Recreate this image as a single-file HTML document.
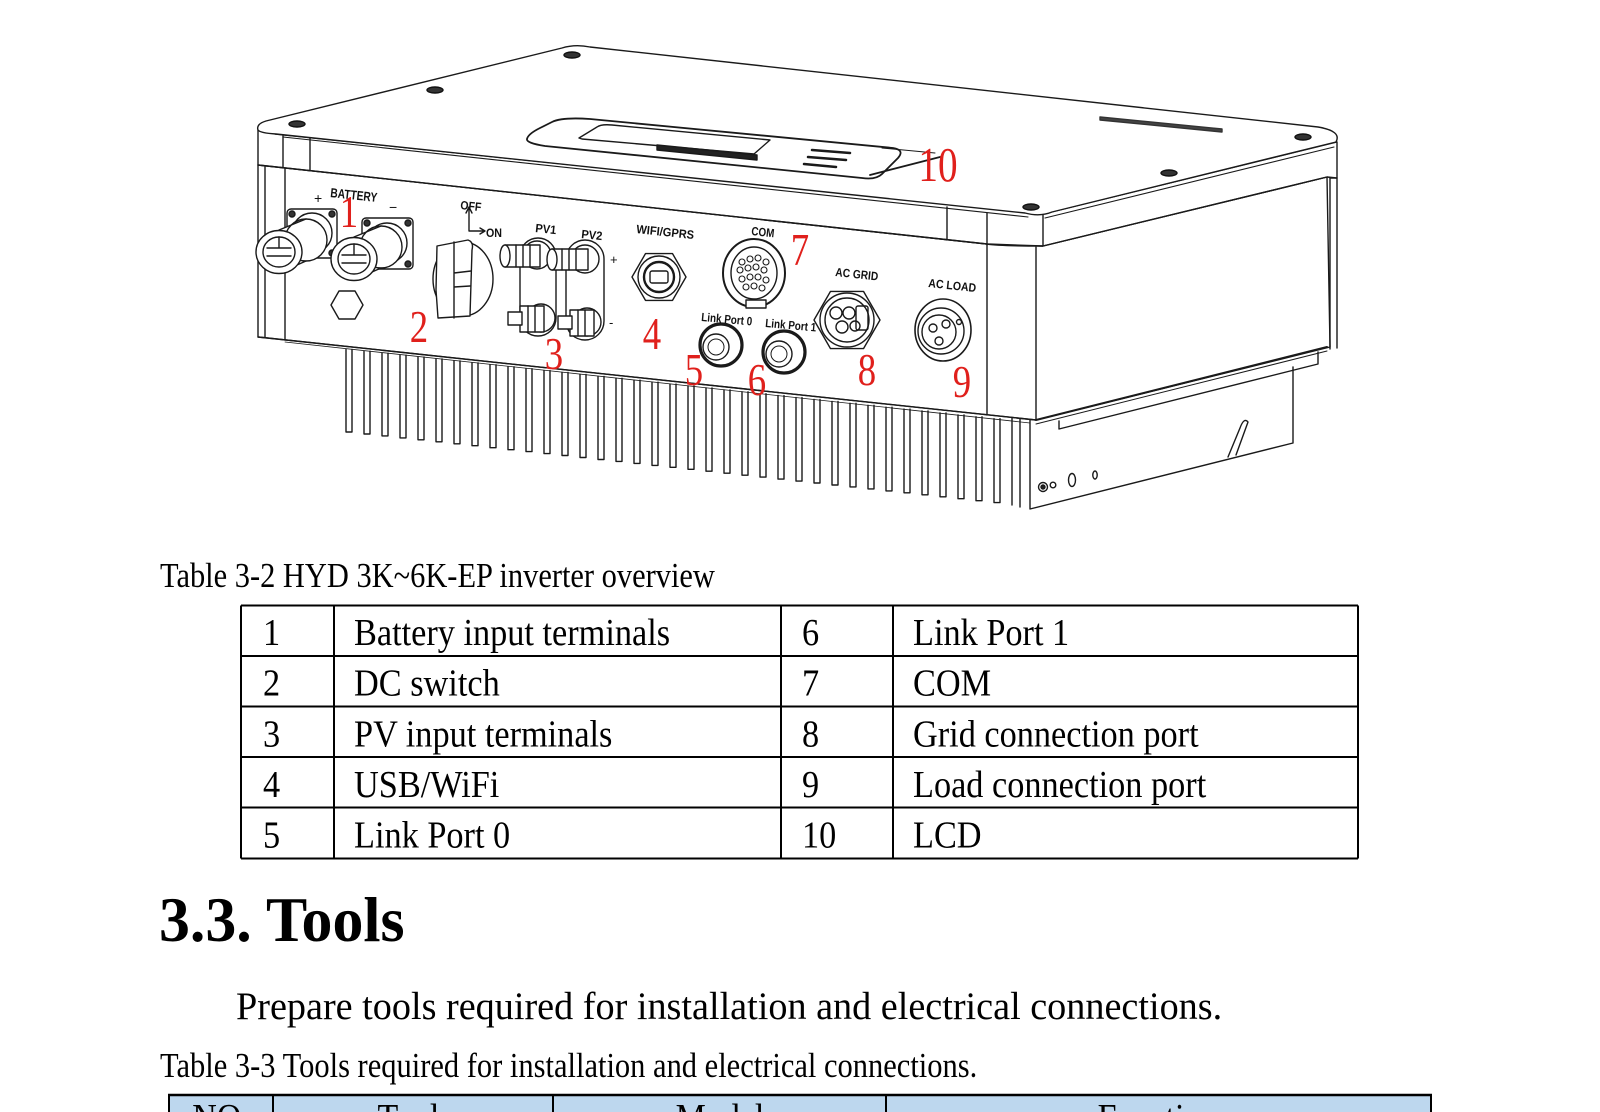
<!DOCTYPE html>
<html><head><meta charset="utf-8"><style>
html,body{margin:0;padding:0;background:#fff;}
body{width:1600px;height:1112px;overflow:hidden;}
svg{display:block;}
.serif{font-family:"Liberation Serif","Times New Roman",serif;fill:#000;}
.lbl{font-family:"Liberation Sans",Arial,sans-serif;font-weight:bold;fill:#111;stroke:none;}
.red{font-family:"Liberation Serif","Times New Roman",serif;fill:#e0201c;stroke:none;}
</style></head><body>
<svg width="1600" height="1112" viewBox="0 0 1600 1112" xmlns="http://www.w3.org/2000/svg">
<rect width="1600" height="1112" fill="#fff"/>

<g fill="none" stroke="#1a1a1a" stroke-width="1.4" stroke-linejoin="round" stroke-linecap="round">
<!-- heat sink fins -->
<path fill="#fff" d="
M346,349.4V432h6V349.4 M364,351.3V434h6V351.3 M382,353.3V435.9h6V353.3 M400,355.2V437.9h6V355.2
M418,357.1V439.8h6V357.1 M436,359V441.8h6V359 M454,361V443.8h6V361 M472,362.9V445.7h6V362.9
M490,364.8V447.7h6V364.8 M508,366.8V449.7h6V366.8 M526,368.7V451.6h6V368.7 M544,370.6V453.6h6V370.6
M562,372.5V455.5h6V372.5 M580,374.5V457.5h6V374.5 M598,376.4V459.5h6V376.4 M616,378.3V461.4h6V378.3
M634,380.2V463.4h6V380.2 M652,382.2V465.4h6V382.2 M670,384.1V467.3h6V384.1 M688,386V469.3h6V386
M706,387.9V471.2h6V387.9 M724,389.9V473.2h6V389.9 M742,391.8V475.2h6V391.8 M760,393.7V477.1h6V393.7
M778,395.6V479.1h6V395.6 M796,397.6V481.1h6V397.6 M814,399.5V483h6V399.5 M832,401.4V485h6V401.4
M850,403.3V486.9h6V403.3 M868,405.3V488.9h6V405.3 M886,407.2V490.9h6V407.2 M904,409.1V492.8h6V409.1
M922,411V494.8h6V411 M940,413V496.8h6V413 M958,414.9V498.7h6V414.9 M976,416.8V500.7h6V416.8
M994,418.7V502.6h6V418.7"/>
<path d="M1012,418 V505 M1020,418 V507"/>

<!-- base bracket right -->
<path fill="#fff" d="M1030,420 L1030,509 L1293,443 L1293,367"/>
<path d="M1059,421 L1059,429 L1318,364 L1318,352"/>
<path d="M1228,457 L1240,428 Q1244,417 1248,422 L1236,455"/>
<circle cx="1043" cy="487" r="4.5"/><circle cx="1043" cy="487" r="2" fill="#222"/>
<circle cx="1053" cy="485" r="2.8"/>
<ellipse cx="1072" cy="480" rx="3.5" ry="6.5"/>
<ellipse cx="1095" cy="475" rx="2.2" ry="4"/>

<!-- body faces -->
<path fill="#fff" d="M258,165 L987,244 L1043,246 L1327,177 L1330,347 L1036,420 L258,337 Z"/>
<path d="M265,166 V337 M285,168 V340 M987,244 V415 M1036,247 V420"/>
<path d="M258,337 L1036,420"/>
<path d="M285,342 L1030,423" stroke-width="0.8"/>
<path d="M1036,420 L1327,347" stroke-width="2"/>
<path d="M1036,424 L1327,351" stroke-width="1"/>
<path d="M1330,176 V349 M1322,171 L1330,178 L1337,178 V348"/>

<!-- lid -->
<path fill="#fff" d="M258,130 L258,165 L987,244 L1043,246 L1327,177 L1337,178 L1337,142 L1043,214 L275,134 Z"/>
<path fill="#fff" d="M258,130 Q256,124 266,121 L562,48 Q575,44 590,47 L1318,127 Q1342,131 1336,142 L1052,212 Q1040,217 1025,213 L276,134 Q260,133 258,130 Z"/>
<path d="M283,137 L1028,217 M1045,218 L1334,147" stroke-width="1.1"/>
<path d="M258,165 L987,244 Q1000,246 1043,246 L1327,177"/>
<path d="M283,135 V168 M310,138 V170 M947,207 V240 M987,213 V245 M1043,215 V246"/>

<!-- top bolts -->
<g fill="#333" stroke="#111">
<ellipse cx="572" cy="55" rx="8" ry="3"/>
<ellipse cx="435" cy="90" rx="8" ry="3"/>
<ellipse cx="297" cy="124" rx="8" ry="3"/>
<ellipse cx="1303" cy="137" rx="8" ry="3"/>
<ellipse cx="1169" cy="173" rx="8" ry="3"/>
<ellipse cx="1031" cy="207" rx="8" ry="3"/>
</g>
<!-- brand -->
<path d="M1100,117 L1222,129 L1222,132 L1100,120 Z" fill="#444" stroke="#333"/>

<!-- LCD panel -->
<path fill="#fff" stroke-width="1.8" d="M527,139 Q528,134 540,128 L552,122 Q562,117 590,119 L893,148 Q905,150 898,158 L882,174 Q876,180 862,178 L545,146 Q526,143 527,139 Z"/>
<path d="M579,138 L597,127 Q601,124 612,125 L770,140 L754,154 L582,139 Z"/>
<path d="M657,145 L757,155 L757,160 L657,150 Z" fill="#222"/>
<path d="M812,150 L850,153 M808,157 L846,160 M804,164 L836,167" stroke-width="2.5"/>
<path d="M870,175 L940,157" stroke-width="1.8"/>
<path d="M882,148 L935,153" stroke-width="1"/>

<!-- battery connectors -->
<rect x="287" y="209" width="50" height="49" rx="4" fill="#fff"/>
<circle cx="312" cy="233" r="20"/>
<g fill="#333"><circle cx="292" cy="214" r="3"/><circle cx="332" cy="214" r="3"/><circle cx="292" cy="253" r="3"/><circle cx="332" cy="253" r="3"/></g>
<path fill="#fff" d="M279,230 L306,219 L306,261 L279,273 Z" stroke="none"/>
<ellipse cx="306" cy="240" rx="21" ry="21" fill="#fff"/>
<path d="M279,230 L306,219 M279,273 L306,261"/>
<ellipse cx="279" cy="252" rx="23" ry="21.5" fill="#fff"/>
<ellipse cx="279" cy="252" rx="16" ry="15"/>
<path d="M267,248 H291 M267,256 H291 M279,237 V248"/>

<rect x="362" y="218" width="51" height="51" rx="4" fill="#fff"/>
<circle cx="387" cy="243" r="20"/>
<g fill="#333"><circle cx="367" cy="223" r="3"/><circle cx="408" cy="223" r="3"/><circle cx="367" cy="264" r="3"/><circle cx="408" cy="264" r="3"/></g>
<path fill="#fff" d="M354,237 L381,226 L381,268 L354,280 Z" stroke="none"/>
<ellipse cx="381" cy="247" rx="21" ry="21" fill="#fff"/>
<path d="M354,237 L381,226 M354,280 L381,268"/>
<ellipse cx="354" cy="259" rx="23" ry="21.5" fill="#fff"/>
<ellipse cx="354" cy="259" rx="16" ry="15"/>
<path d="M342,255 H366 M342,263 H366 M354,244 V255"/>

<!-- hex nut -->
<path fill="#fff" d="M363,305 L355,291 L339,291 L331,305 L339,319 L355,319 Z"/>

<!-- DC switch -->
<ellipse cx="463" cy="279" rx="30" ry="37" fill="#fff"/>
<path fill="#fff" d="M437,246 L468,240 Q474,242 472,250 L470,316 L438,318 L436,290 Z"/>
<path d="M454,242 L454,318 M454,273 L471,271 M454,287 L470,286"/>
<path d="M469,209 V231 H483 M466,213 L469,207 L472,213 M480,228 L485,231 L480,234"/>

<!-- PV connectors -->
<rect x="520" y="238" width="36" height="98" rx="18" fill="#fff"/>
<rect x="566" y="240" width="38" height="100" rx="19" fill="#fff"/>
<circle cx="537" cy="255" r="14"/>
<path fill="#fff" d="M505,245 L540,245 L540,267 L505,267 Z"/>
<path d="M516,245 V267 M523,245 V267 M530,245 V267"/>
<ellipse cx="505" cy="256" rx="5" ry="11" fill="#fff"/>
<circle cx="585" cy="259" r="14"/>
<path fill="#fff" d="M552,249 L588,249 L588,270 L552,270 Z"/>
<path d="M562,249 V270 M569,249 V270 M576,249 V270"/>
<ellipse cx="552" cy="259.5" rx="5" ry="10.5" fill="#fff"/>
<circle cx="541" cy="318" r="14"/>
<rect x="520" y="306" width="24" height="26" fill="#fff"/>
<rect x="508" y="312" width="14" height="13" fill="#fff"/>
<path d="M528,306 V332 M535,306 V332"/>
<circle cx="587" cy="322" r="14"/>
<rect x="570" y="310" width="24" height="26" fill="#fff"/>
<rect x="558" y="316" width="14" height="13" fill="#fff"/>
<path d="M578,310 V336 M585,310 V336"/>

<!-- WIFI -->
<path fill="#fff" d="M686,277 L672.5,253.6 L645.5,253.6 L632,277 L645.5,300.4 L672.5,300.4 Z"/>
<circle cx="659" cy="277" r="21"/>
<circle cx="659" cy="277" r="15" stroke-width="2.4"/>
<rect x="650" y="271" width="18" height="12" rx="2"/>

<!-- COM -->
<ellipse cx="754" cy="273" rx="31" ry="34" fill="#fff" stroke-width="2"/>
<ellipse cx="754" cy="273" rx="23" ry="26"/>
<rect x="746" y="300" width="20" height="8" fill="#fff"/>
<g stroke-width="1.1">
<circle cx="742" cy="262" r="3"/><circle cx="750" cy="259" r="3"/><circle cx="758" cy="258" r="3"/><circle cx="766" cy="262" r="3"/>
<circle cx="740" cy="270" r="3"/><circle cx="748" cy="268" r="3"/><circle cx="756" cy="267" r="3"/><circle cx="764" cy="270" r="3"/>
<circle cx="742" cy="279" r="3"/><circle cx="750" cy="277" r="3"/><circle cx="758" cy="277" r="3"/><circle cx="766" cy="280" r="3"/>
<circle cx="746" cy="287" r="3"/><circle cx="754" cy="286" r="3"/><circle cx="762" cy="288" r="3"/>
</g>

<!-- Link ports -->
<circle cx="721" cy="345" r="21" fill="#fff" stroke-width="3.2"/>
<circle cx="716" cy="347" r="13"/>
<circle cx="716" cy="347" r="8" stroke-width="1"/>
<circle cx="784" cy="352" r="21" fill="#fff" stroke-width="3.2"/>
<circle cx="779" cy="354" r="13"/>
<circle cx="779" cy="354" r="8" stroke-width="1"/>

<!-- AC GRID -->
<path fill="#fff" d="M880,320 L863.5,291.4 L830.5,291.4 L814,320 L830.5,348.6 L863.5,348.6 Z"/>
<circle cx="847" cy="320" r="27"/>
<circle cx="847" cy="320" r="22"/>
<circle cx="836" cy="313" r="6"/><circle cx="849" cy="313" r="6"/><circle cx="842" cy="327" r="6"/><circle cx="855" cy="326" r="5"/>
<rect x="856" y="306" width="12" height="24" rx="2"/>

<!-- AC LOAD -->
<ellipse cx="943" cy="330" rx="28" ry="31" fill="#fff" stroke-width="1.6"/>
<circle cx="941" cy="331" r="23"/>
<circle cx="939" cy="332" r="17"/>
<circle cx="933" cy="328" r="4"/><circle cx="946" cy="324" r="4"/><circle cx="939" cy="341" r="4"/><circle cx="959" cy="322" r="2.5"/>
</g>

<!-- drawing labels -->
<text class="lbl" x="330" y="197" font-size="13" textLength="47" lengthAdjust="spacingAndGlyphs" transform="rotate(6 330 197)">BATTERY</text>
<text class="lbl" x="314" y="203" font-size="14" style="font-weight:normal">+</text>
<text class="lbl" x="389" y="212" font-size="14" style="font-weight:normal">−</text>
<text class="lbl" x="460" y="209" font-size="12" textLength="21" lengthAdjust="spacingAndGlyphs" transform="rotate(6 460 209)">OFF</text>
<text class="lbl" x="486" y="237" font-size="12" textLength="16" lengthAdjust="spacingAndGlyphs">ON</text>
<text class="lbl" x="535" y="232" font-size="12" textLength="21" lengthAdjust="spacingAndGlyphs" transform="rotate(6 535 232)">PV1</text>
<text class="lbl" x="581" y="238" font-size="12" textLength="21" lengthAdjust="spacingAndGlyphs" transform="rotate(6 581 238)">PV2</text>
<text class="lbl" x="610" y="264" font-size="13" style="font-weight:normal">+</text>
<text class="lbl" x="609" y="327" font-size="13" style="font-weight:normal">-</text>
<text class="lbl" x="636" y="233" font-size="12" textLength="58" lengthAdjust="spacingAndGlyphs" transform="rotate(6 636 233)">WIFI/GPRS</text>
<text class="lbl" x="751" y="235" font-size="12" textLength="23" lengthAdjust="spacingAndGlyphs" transform="rotate(6 751 235)">COM</text>
<text class="lbl" x="701" y="321" font-size="12" textLength="51" lengthAdjust="spacingAndGlyphs" transform="rotate(5 701 321)">Link Port 0</text>
<text class="lbl" x="765" y="327" font-size="12" textLength="51" lengthAdjust="spacingAndGlyphs" transform="rotate(5 765 327)">Link Port 1</text>
<text class="lbl" x="835" y="276" font-size="12" textLength="43" lengthAdjust="spacingAndGlyphs" transform="rotate(6 835 276)">AC GRID</text>
<text class="lbl" x="928" y="287" font-size="12" textLength="48" lengthAdjust="spacingAndGlyphs" transform="rotate(6 928 287)">AC LOAD</text>

<!-- red numerals -->
<g class="red" text-anchor="middle" font-size="46">
<text transform="translate(349,227) scale(0.8,1)">1</text>
<text transform="translate(419,342) scale(0.8,1)">2</text>
<text transform="translate(554,369) scale(0.8,1)">3</text>
<text transform="translate(652,349) scale(0.8,1)">4</text>
<text transform="translate(694,385) scale(0.8,1)">5</text>
<text transform="translate(757,395) scale(0.8,1)">6</text>
<text transform="translate(800,265) scale(0.8,1)">7</text>
<text transform="translate(867,385) scale(0.8,1)">8</text>
<text transform="translate(962,397) scale(0.8,1)">9</text>
<text transform="translate(938,181) scale(0.8,1)" font-size="49">10</text>
</g>

<!-- caption 3-2 -->
<text class="serif" font-size="30.45" transform="translate(160,587) scale(1,1.13)">Table 3-2 HYD 3K~6K-EP inverter overview</text>

<!-- table 3-2 -->
<g stroke="#000" stroke-width="2" fill="none">
<path d="M241,605.5 H1358 M241,656 H1358 M241,706.5 H1358 M241,757 H1358 M241,807.5 H1358 M241,858.5 H1358"/>
<path d="M241,605.5 V858.5 M334,605.5 V858.5 M781,605.5 V858.5 M893,605.5 V858.5 M1358,605.5 V858.5"/>
</g>
<g class="serif" font-size="34.3">
<text transform="translate(263,645) scale(1,1.11)">1</text>
<text transform="translate(263,695.7) scale(1,1.11)">2</text>
<text transform="translate(263,746.3) scale(1,1.11)">3</text>
<text transform="translate(263,797) scale(1,1.11)">4</text>
<text transform="translate(263,847.5) scale(1,1.11)">5</text>
<text transform="translate(354,645) scale(1,1.11)">Battery input terminals</text>
<text transform="translate(354,695.7) scale(1,1.11)">DC switch</text>
<text transform="translate(354,746.3) scale(1,1.11)">PV input terminals</text>
<text transform="translate(354,797) scale(1,1.11)">USB/WiFi</text>
<text transform="translate(354,847.5) scale(1,1.11)">Link Port 0</text>
<text transform="translate(802,645) scale(1,1.11)">6</text>
<text transform="translate(802,695.7) scale(1,1.11)">7</text>
<text transform="translate(802,746.3) scale(1,1.11)">8</text>
<text transform="translate(802,797) scale(1,1.11)">9</text>
<text transform="translate(802,847.5) scale(1,1.11)">10</text>
<text transform="translate(913,645) scale(1,1.11)">Link Port 1</text>
<text transform="translate(913,695.7) scale(1,1.11)">COM</text>
<text transform="translate(913,746.3) scale(1,1.11)">Grid connection port</text>
<text transform="translate(913,797) scale(1,1.11)">Load connection port</text>
<text transform="translate(913,847.5) scale(1,1.11)">LCD</text>
</g>

<!-- heading -->
<text class="serif" font-size="61.8" font-weight="bold" transform="translate(159,941) scale(1,1.02)">3.3. Tools</text>
<!-- body -->
<text class="serif" font-size="38.2" transform="translate(236,1019) scale(1,1.03)">Prepare tools required for installation and electrical connections.</text>
<!-- caption 3-3 -->
<text class="serif" font-size="30.5" transform="translate(160,1077) scale(1,1.13)">Table 3-3 Tools required for installation and electrical connections.</text>

<!-- table 3-3 header (cut off) -->
<rect x="169" y="1095" width="1262" height="20" fill="#bdd7ee"/>
<g stroke="#000" fill="none">
<path d="M168,1095 H1432" stroke-width="2.5"/>
<path d="M169,1095 V1112 M273,1095 V1112 M553,1095 V1112 M886,1095 V1112 M1431,1095 V1112" stroke-width="2"/>
</g>
<g class="serif" font-size="34" text-anchor="middle">
<text transform="translate(221,1130) scale(1,1.12)">NO.</text>
<text transform="translate(415,1130) scale(1,1.12)">Tools</text>
<text transform="translate(720,1130) scale(1,1.12)">Model</text>
<text transform="translate(1158,1130) scale(1,1.12)">Function</text>
</g>
</svg>
</body></html>
